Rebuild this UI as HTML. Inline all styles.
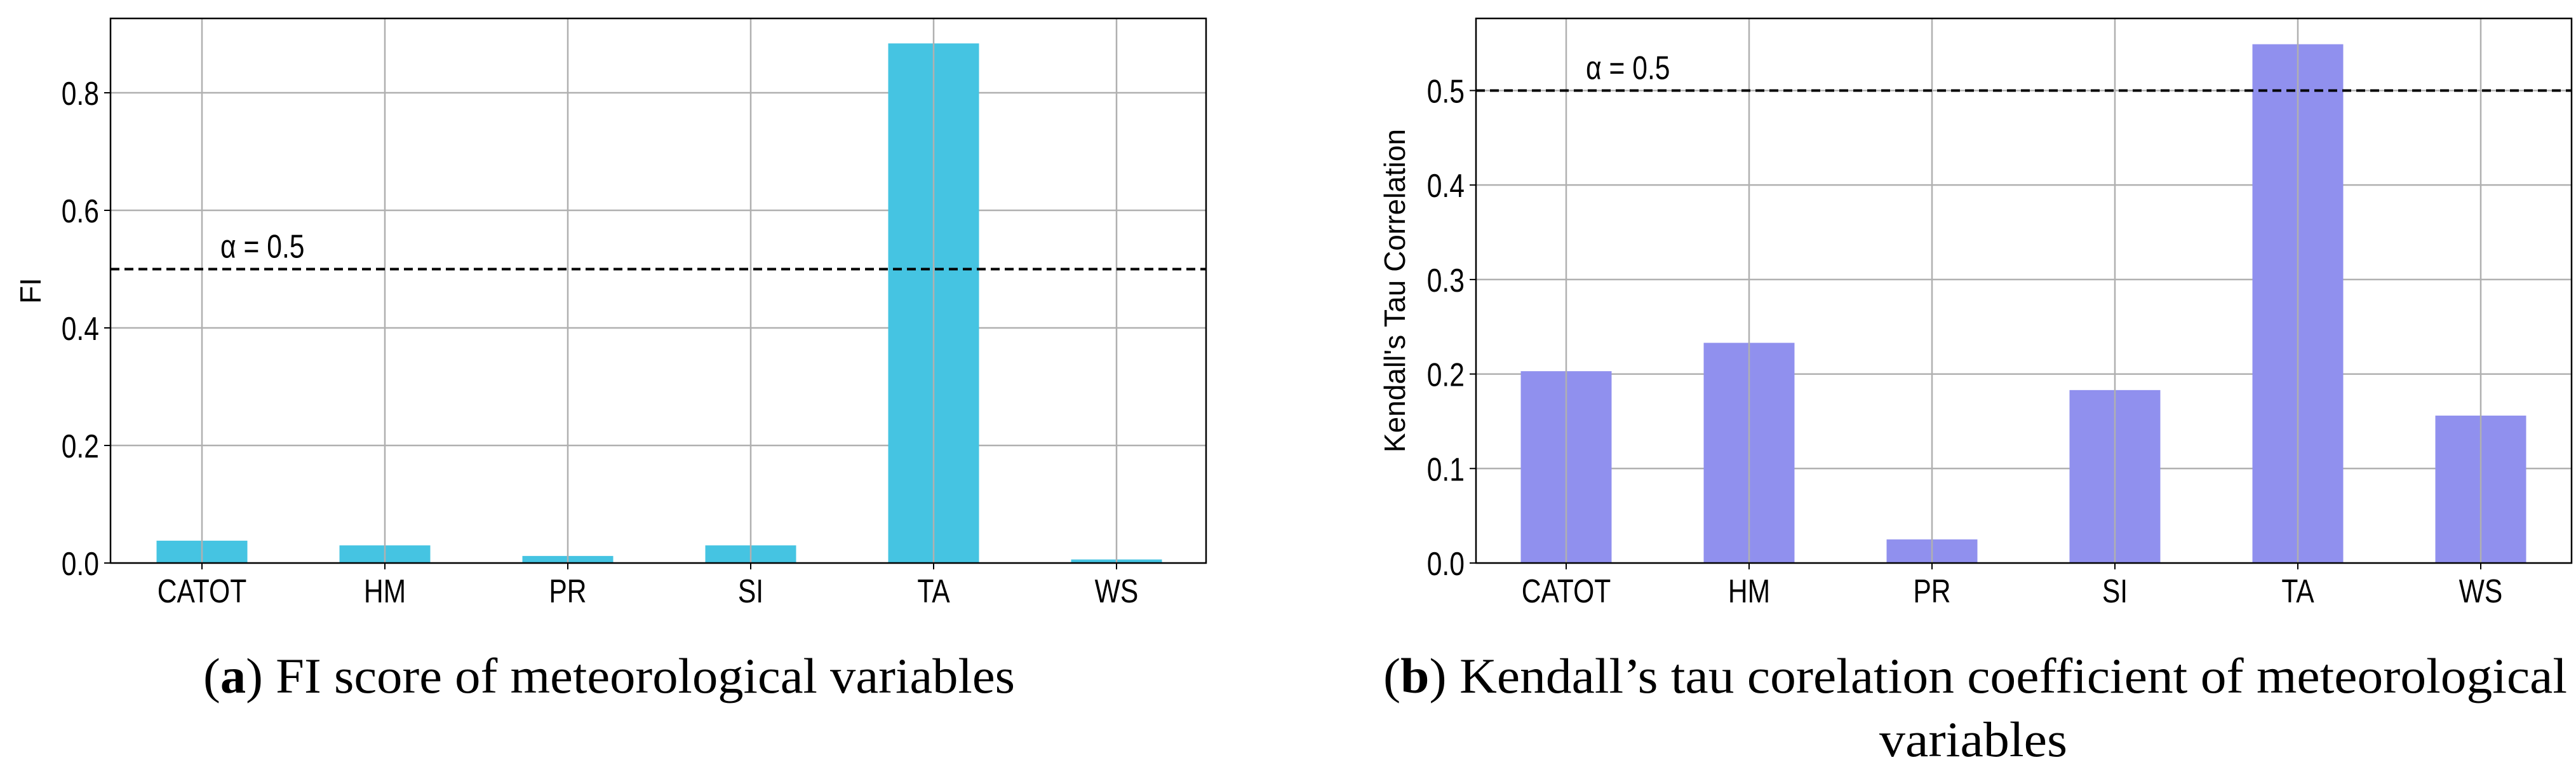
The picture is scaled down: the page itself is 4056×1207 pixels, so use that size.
<!DOCTYPE html>
<html><head><meta charset="utf-8"><style>
html,body{margin:0;padding:0;background:#fff;}
svg{display:block;}
</style></head><body>
<svg id="fig" width="4056" height="1207" viewBox="0 0 4056 1207" xmlns="http://www.w3.org/2000/svg"></svg>
<script>
const categories = ["CATOT","HM","PR","SI","TA","WS"];
const fiValues = [0.038, 0.030, 0.012, 0.030, 0.884, 0.006];
const tauValues = [0.203, 0.233, 0.025, 0.183, 0.549, 0.156];
const fiTicks = [0.0, 0.2, 0.4, 0.6, 0.8];
const fiTickLabels = ["0.0","0.2","0.4","0.6","0.8"];
const tauTicks = [0.0, 0.1, 0.2, 0.3, 0.4, 0.5];
const tauTickLabels = ["0.0","0.1","0.2","0.3","0.4","0.5"];
const alphaValue = [0.5];

const NS = "http://www.w3.org/2000/svg";
const svg = document.getElementById("fig");
function el(tag, attrs, parent){
  const e = document.createElementNS(NS, tag);
  for (const k in attrs) e.setAttribute(k, attrs[k]);
  (parent||svg).appendChild(e);
  return e;
}
const FS = 52, SX = 0.82;

function drawChart(cfg){
  const g = el("g", {});
  
  
  const {left, right, top, bottom, ymax} = cfg;
  const y = v => bottom - v/ymax*(bottom-top);
  const step = 288;
  const x = i => cfg.firstX + i*step;
  const bw = 143;
  cfg.ticks.forEach((t,i)=>{
    const gl = el("line",{x1:left,x2:right,y1:y(t),y2:y(t),stroke:"#b0b0b0","stroke-width":2.5},g);
    
    
    const tx = left-18;
    const tl = el("text",{x:tx,y:y(t)+19,"text-anchor":"end","font-family":"Liberation Sans, sans-serif","font-size":FS,fill:"#000",transform:`translate(${tx},0) scale(${SX},1) translate(${-tx},0)`},g);
    tl.textContent = cfg.tickLabels[i];
    
    
    const tk = el("line",{x1:left-10,x2:left,y1:y(t),y2:y(t),stroke:"#000","stroke-width":2},g);
    
    
  });
  cfg.values.forEach((v,i)=>{
    const r = el("rect",{x:x(i)-bw/2,y:y(v),width:bw,height:bottom-y(v),fill:cfg.color},g);
    
    
  });
  categories.forEach((c,i)=>{
    const vl = el("line",{x1:x(i),x2:x(i),y1:top,y2:bottom,stroke:"#b0b0b0","stroke-width":2.5},g);
    
    
    const tk = el("line",{x1:x(i),x2:x(i),y1:bottom,y2:bottom+10,stroke:"#000","stroke-width":2},g);
    
    
    const tl = el("text",{x:x(i),y:bottom+62,"text-anchor":"middle","font-family":"Liberation Sans, sans-serif","font-size":FS,fill:"#000",transform:`translate(${x(i)},0) scale(${SX},1) translate(${-x(i)},0)`},g);
    tl.textContent = c;
    
    
  });
  const a = alphaValue[0];
  const dl = el("line",{x1:left,x2:right,y1:y(a),y2:y(a),stroke:"#000","stroke-width":4,"stroke-dasharray":"14,8"},g);
  
  
  const at = el("text",{x:cfg.alphaX,y:y(a)-18,"font-family":"Liberation Sans, sans-serif","font-size":FS,fill:"#000",transform:`translate(${cfg.alphaX},0) scale(${SX},1) translate(${-cfg.alphaX},0)`},g);
  at.textContent = "α = " + a;
  
  
  const fr = el("rect",{x:left,y:top,width:right-left,height:bottom-top,fill:"none",stroke:"#000","stroke-width":2.5},g);
  
  
  const yl = el("text",{x:cfg.ylabelX,y:(top+bottom)/2,"text-anchor":"middle","font-family":"Liberation Sans, sans-serif","font-size":46,fill:"#000",transform:`rotate(-90 ${cfg.ylabelX} ${(top+bottom)/2})`},g);
  yl.textContent = cfg.ylabel;
  
  
}

drawChart({name:"fi-chart",left:174,right:1899,top:29,bottom:886,ymax:0.9265,firstX:318,values:fiValues,ticks:fiTicks,tickLabels:fiTickLabels,color:"#45C4E2",alphaX:347,ylabelX:64,ylabel:"FI"});
drawChart({name:"tau-chart",left:2324,right:4049,top:29,bottom:886,ymax:0.5763,firstX:2466,values:tauValues,ticks:tauTicks,tickLabels:tauTickLabels,color:"#9090EE",alphaX:2497,ylabelX:2212,ylabel:"Kendall's Tau Correlation"});

function caption(txtBold, rest, xc, yb, name, len){
  const t = el("text",{x:xc,y:yb,"text-anchor":"middle","font-family":"Liberation Serif, serif","font-size":78,fill:"#000",textLength:len,lengthAdjust:"spacingAndGlyphs"});
  
  
  const s1 = el("tspan",{},t); s1.textContent="(";
  const s2 = el("tspan",{"font-weight":"bold"},t); s2.textContent=txtBold;
  const s3 = el("tspan",{},t); s3.textContent=") "+rest;
}
caption("a","FI score of meteorological variables",959,1090,"caption-a",1278);
caption("b","Kendall’s tau corelation coefficient of meteorological",3110,1090,"caption-b",1864);
const v2 = el("text",{x:3107,y:1190,"text-anchor":"middle","font-family":"Liberation Serif, serif","font-size":78,fill:"#000",textLength:296,lengthAdjust:"spacingAndGlyphs"});
v2.textContent="variables";


</script>
</body></html>
